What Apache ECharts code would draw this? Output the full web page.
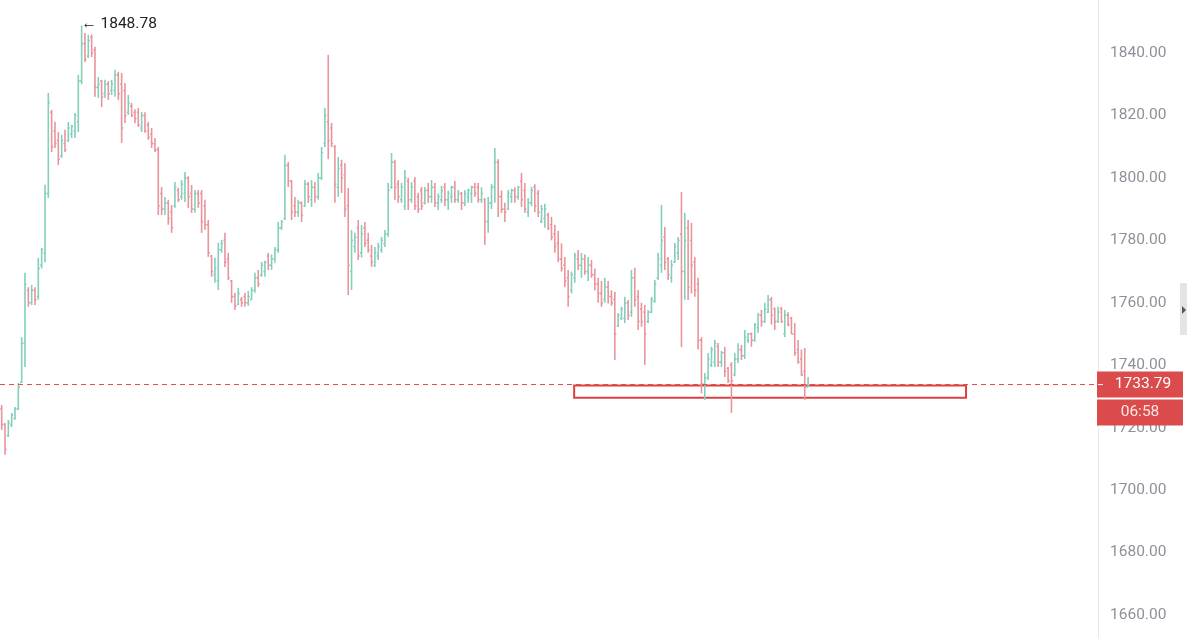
<!DOCTYPE html>
<html><head><meta charset="utf-8">
<script src="https://cdn.jsdelivr.net/npm/echarts@6/dist/echarts.min.js"></script>
<style>html,body{margin:0;padding:0;background:#fff}#c{width:1187px;height:638px}</style>
</head><body><div id="c"></div>
<script>
// OHLC bars: [open, high, low, close]
const rallyBars = [
[1726,1727.3,1719.3,1721],[1721,1721.5,1711.3,1713],[1717.5,1722.5,1717,1721.5],[1721,1724.7,1720.2,1724],
[1723,1726.6,1722.5,1726],[1726,1734.3,1725.7,1733],[1734.5,1749,1734.3,1747],[1747,1769.6,1739.4,1766],
[1764,1765,1758.7,1760],[1760,1765.7,1759.3,1764],[1764,1765,1759.3,1761],[1762,1774.4,1761,1771],
[1772,1777.6,1771,1777],[1776,1797.8,1773,1795],[1795,1827.2,1793.6,1824],[1821,1821.8,1808.3,1810],
[1815,1818,1809.6,1811],[1812,1814.7,1804.1,1806],[1807,1813.8,1806.4,1812],[1811,1815.4,1808.3,1809],
[1812,1817.9,1811.5,1816],[1814,1817,1812.8,1816.5],[1815,1820.8,1812.8,1820],[1818,1833,1814.7,1831],
[1831,1848.78,1830,1843]
];
const topBars = [
[1843,1846.4,1837.1,1838],[1839,1845.8,1838.4,1844],[1845,1846,1838.7,1840],[1841,1842,1826,1829],
[1829,1832.3,1825.6,1830],[1831,1831.4,1822.7,1826],[1827,1831.4,1825.6,1830],[1830,1831,1825,1827],
[1828,1831.4,1826.5,1830],[1828,1834.6,1826,1833],[1833,1834,1825,1827],[1830,1833.6,1811.2,1816],
[1828,1830.4,1817.6,1820],[1821,1826.6,1820.2,1824],[1823,1824,1819.5,1820],[1821,1822,1817.5,1819],
[1821,1822.4,1816.3,1817],[1816,1821.1,1814.7,1820],[1820,1821,1814.5,1815],[1817,1817.9,1812.2,1813],
[1814,1816,1809.6,1811],[1811,1812.8,1808.3,1809],[1809,1809.9,1788.1,1791],[1795,1797.1,1788.1,1790],
[1790,1793.9,1788.1,1792],[1792,1793,1785,1787],[1789,1791.3,1782.4,1784],[1791,1798.7,1790.4,1797],
[1796,1796.8,1792.3,1793],[1794,1799.3,1793,1798],[1795,1801.9,1792.3,1800],[1800,1800.5,1790.4,1794],
[1795,1797.7,1788.8,1790],[1790,1796.1,1788.8,1795],[1795,1796.1,1790.4,1792],[1795,1796.1,1782.4,1786]
];
const swingBars = [
[1791,1793,1783.3,1785],[1785,1786.5,1774.7,1776],[1775,1775.3,1768.3,1770],[1769,1774.4,1766.4,1771],
[1767,1779.2,1764.1,1777],[1777,1780.1,1776,1779],[1780,1782.4,1771.5,1773],[1774,1776,1767.3,1768],
[1767,1767.3,1760,1762],[1762,1763.2,1757.7,1759],[1759.5,1764.8,1759.3,1763],[1761,1761.9,1758.7,1760],
[1762,1763.2,1758.7,1760],[1760,1763.8,1759,1762],[1761,1765,1760.9,1764],[1764,1769.6,1763.2,1768],
[1768,1770.5,1765,1766],[1769,1773.1,1768.3,1772],[1770,1773.5,1768.3,1773],[1775,1776,1770.5,1772],
[1772,1775.5,1770.5,1774],[1774,1777.9,1772.8,1777],[1777,1785.9,1776,1784],[1784,1786.5,1783.3,1786],
[1787,1807.4,1786.5,1804],[1804,1805.1,1797.1,1799],[1799,1799.3,1786.5,1789],[1791,1793.9,1787.5,1789],
[1789,1793,1787.5,1792],[1792,1792.5,1785.9,1788],[1791,1799.3,1790.7,1798],[1798,1798.7,1792,1794],
[1793,1799.3,1790.7,1797],[1797,1798.7,1792,1794],[1794,1801.6,1793,1800],[1800,1809.9,1799.3,1808],
[1811,1822.4,1809.9,1820],[1818,1839.4,1806,1812],[1816,1817.6,1809.9,1811],[1810,1810.5,1792,1798],
[1797,1806.7,1793.9,1803],[1804,1805.8,1795.2,1800],[1801,1804.8,1787.5,1790],[1791,1796.8,1762.5,1772],
[1770,1783.3,1764.1,1780],[1778,1782.4,1776,1781],[1784,1786.5,1773.7,1775],[1776,1784.9,1774.5,1782],
[1784,1785.9,1777.9,1779],[1780,1782.4,1776,1777],[1775,1778.5,1771.5,1773],[1772,1777.9,1771.5,1776],
[1775,1779.2,1773.7,1778],[1777,1781.1,1776,1780],[1779,1783.3,1777.9,1782],[1782,1798.4,1781.1,1796],
[1797,1808,1796.5,1805],[1805,1805.8,1792.9,1797],[1798,1799.3,1792,1794],[1793,1798.4,1792,1797]
];
const plateauBars = [
[1791,1802.5,1789.7,1800],[1799,1800,1789.7,1793],[1793,1798.7,1792,1797],[1799,1800.3,1789.7,1791],
[1794,1795.2,1788.8,1790],[1796,1797.1,1789.7,1791],[1792,1797.1,1791.5,1796],[1796,1798.4,1792,1794],
[1794,1799.3,1792,1797],[1797,1798.4,1790.7,1792],[1792,1795,1789.7,1794],[1793,1797.5,1792,1796],
[1797,1798.4,1791,1793],[1793,1796,1789.7,1795],[1794,1797.5,1792,1797],[1797,1799,1792,1793],
[1793,1796.1,1792,1795],[1795,1795.5,1789.7,1792],[1792,1796.1,1791,1795],[1794,1796.5,1792,1796],
[1795,1797.5,1792,1797],[1797,1798.4,1794,1795],[1797,1798.4,1792,1793],[1793,1797,1792,1795],
[1793,1793.6,1778.5,1786],[1786,1793.9,1782.4,1792],[1792,1798,1790,1797],[1797,1809.6,1792,1805],
[1805,1806,1787.5,1794],[1794,1796,1788.8,1790],[1790,1792,1785.9,1789],[1790,1796.1,1789.7,1795],
[1794,1796.5,1792,1796],[1796,1797,1792,1794],[1794,1797.5,1793,1797],[1799,1801.6,1790.7,1793],
[1796,1798.4,1788.8,1790],[1789,1793.6,1787.5,1792],[1792,1797.1,1791,1796],[1797,1798,1789,1791],
[1795,1796.1,1787.5,1789],[1786,1791.3,1785.6,1790],[1787,1791.7,1784,1790],[1788,1788.8,1783.3,1784],
[1785,1787.5,1780,1781],[1782,1785,1776,1778],[1779,1783,1773,1774],[1774,1779,1770,1771],
[1772,1774.7,1765,1767],[1768,1770.5,1758.7,1762],[1764,1770,1763,1769],[1768,1776,1766.4,1775],
[1774,1776.9,1770.5,1772],[1772,1776,1768,1774],[1774,1775.5,1769,1770],[1770,1774.7,1767,1772],
[1772,1773.7,1768,1769],[1769,1771,1764,1766],[1766,1768,1760,1763],[1763,1767,1758.7,1760]
];
const lateBars = [
[1761,1768,1760,1765],[1765,1767,1759.8,1762],[1762,1764,1759,1760],[1761,1763.5,1741.7,1750],
[1752.5,1756.7,1752.3,1756],[1755,1758.7,1754.5,1758],[1755,1761.9,1753.5,1760],[1760,1760.9,1754.5,1756],
[1757,1770.5,1755.5,1768],[1768,1771.2,1758.7,1761],[1762,1764.1,1751.3,1754],[1758,1760,1752.3,1754],
[1757,1759.3,1740.1,1750],[1754,1757.7,1753.5,1757],[1757,1761.9,1756.7,1761],[1760.5,1767.3,1760,1766],
[1768,1776,1767.3,1774],[1772,1791.3,1769.6,1780],[1781,1784.3,1770.5,1773],[1774,1774.7,1767.3,1769],
[1768,1773.7,1766.4,1772],[1773,1779.2,1772.8,1778],[1776,1781.1,1773.7,1780],[1782,1795.5,1745.8,1770],
[1770,1788.8,1761,1780],[1784,1786.5,1760.9,1765],[1780,1785.6,1763,1772],[1773,1774.7,1761.9,1764],
[1766,1768,1745,1748],[1748,1749,1731,1734],[1734,1737.5,1728.9,1736],[1736,1743.9,1735.3,1742],
[1740,1745.9,1739.4,1745],[1741,1748.1,1739.4,1747],[1746,1747.1,1739.4,1741],[1741,1744.6,1739.4,1744],
[1744,1745.9,1736.2,1738],[1739,1739.4,1734.3,1735],[1740,1741,1724.7,1735],[1737,1744,1736.5,1742],
[1742,1747,1740.7,1745],[1745,1746.5,1741.7,1743],[1743,1751.3,1742,1749],[1748,1750.3,1747.1,1750],
[1750,1750.5,1745.9,1748],[1748,1753.5,1747.5,1753],[1752,1756.7,1750.3,1756],[1756,1757.7,1752.3,1754],
[1754,1760,1753.5,1758],[1757,1762.5,1756.7,1761],[1761,1761.9,1753,1756],[1758,1758.5,1751.3,1754],
[1754,1758.7,1753.5,1757],[1758,1758.7,1753.5,1754],[1750,1757.7,1749,1756],[1756,1757,1752.5,1753],
[1755,1755.5,1750,1750],[1750,1753.5,1743,1744],[1745,1748.1,1740.5,1741],[1742,1745,1736.5,1737],
[1738,1745.5,1728.9,1733],[1733,1736.2,1733,1733.79]
];
const priceRange = [1652.63, 1856.98];   // visible price window of the pane
const priceStep = 20;                     // label step: 1660.00 … 1840.00
const lastPrice = 1733.79;
const countdown = '06:58';
const maxPrice = 1848.78;
const zoneLow = 1729.6, zoneHigh = 1733.5, zoneFrom = 171.8, zoneTo = 289.4;

const allBars = rallyBars.concat(topBars, swingBars, plateauBars, lateBars);
const maxIndex = allBars.findIndex(b => b[1] === maxPrice);
const data = allBars.map((b, i) => [i, b[0], b[1], b[2], b[3]]);

const UP = '#84cebc', DOWN = '#e9949a';
const FONT = 'Roboto, "Liberation Sans", sans-serif';
const chart = echarts.init(document.getElementById('c'));
chart.setOption({
  animation: false,
  backgroundColor: '#ffffff',
  grid: { left: 0, right: 89, top: 0, bottom: 0 },
  xAxis: { type: 'value', min: -0.5, max: 329, show: false },
  yAxis: {
    type: 'value', position: 'right',
    min: priceRange[0], max: priceRange[1], minInterval: priceStep, maxInterval: priceStep,
    axisLine: { show: true, onZero: false, lineStyle: { color: '#e6e8ec', width: 1 } },
    axisTick: { show: false }, splitLine: { show: false },
    axisLabel: { color: '#8e9199', fontSize: 15.5, fontFamily: FONT, margin: 12,
      showMinLabel: false, showMaxLabel: false,
      formatter: v => (Math.abs(v / priceStep - Math.round(v / priceStep)) < 1e-6 ? v.toFixed(2) : '') }
  },
  series: [{
    type: 'custom', data: data, clip: true,
    encode: { x: 0, y: [1, 2, 3, 4] },
    renderItem: function (params, api) {
      const i = api.value(0), o = api.value(1), h = api.value(2), l = api.value(3), c = api.value(4);
      const pH = api.coord([i, h]), pL = api.coord([i, l]);
      const yO = api.coord([i, o])[1], yC = api.coord([i, c])[1];
      const x = pH[0];
      const col = c >= o ? UP : DOWN;
      const st = { stroke: col, lineWidth: 1.6 };
      return { type: 'group', children: [
        { type: 'line', shape: { x1: x, y1: pH[1], x2: x, y2: pL[1] }, style: st },
        { type: 'line', shape: { x1: x - 1.5, y1: yO, x2: x, y2: yO }, style: st },
        { type: 'line', shape: { x1: x, y1: yC, x2: x + 1.5, y2: yC }, style: st }
      ]};
    }
  }, {
    type: 'line', data: [], silent: true,
    markLine: { silent: true, symbol: ['none', 'none'], label: { show: false },
      lineStyle: { color: '#e0504f', type: [5, 4], width: 1, opacity: 1 },
      data: [{ yAxis: lastPrice, lineStyle: { color: '#e0504f', type: [5, 4], width: 1 } }] },
    markArea: { silent: true,
      itemStyle: { color: 'rgba(0,0,0,0)', borderColor: '#d9423f', borderWidth: 2 },
      data: [[{ coord: [zoneFrom, zoneHigh] }, { coord: [zoneTo, zoneLow] }]] },
    markPoint: { silent: true,
      data: [{ coord: [maxIndex, maxPrice], symbol: 'circle', symbolSize: 1,
        itemStyle: { color: 'rgba(0,0,0,0)' },
        label: { show: true, position: 'right', distance: 0, offset: [-1, -1],
          formatter: '\u2190 ' + maxPrice.toFixed(2), color: '#222', fontSize: 15.5, fontFamily: FONT } }] }
  }]
});

const py = chart.convertToPixel({ gridIndex: 0 }, [0, lastPrice])[1];
chart.setOption({
  graphic: [
    { type: 'rect', z: 100, shape: { x: 1097, y: py - 13, width: 86, height: 26 }, style: { fill: '#dc4b4b' } },
    { type: 'rect', z: 101, shape: { x: 1098, y: py - 0.5, width: 5, height: 1 }, style: { fill: '#ffffff' } },
    { type: 'text', z: 102, x: 1143, y: py, style: { text: lastPrice.toFixed(2), fill: '#ffffff', fontSize: 15.5,
      fontFamily: FONT, align: 'center', verticalAlign: 'middle' } },
    { type: 'rect', z: 100, shape: { x: 1097, y: py + 15, width: 86, height: 26 }, style: { fill: '#dc4b4b' } },
    { type: 'text', z: 102, x: 1140, y: py + 28, style: { text: countdown, fill: '#fbe6e6', fontSize: 15.5,
      fontFamily: FONT, align: 'center', verticalAlign: 'middle' } },
    { type: 'rect', z: 100, shape: { x: 1180, y: 283, width: 7, height: 52 }, style: { fill: '#e4e4e6' } },
    { type: 'polygon', z: 101, shape: { points: [[1182, 306], [1186, 310], [1182, 314]] }, style: { fill: '#555' } }
  ]
});
</script></body></html>
